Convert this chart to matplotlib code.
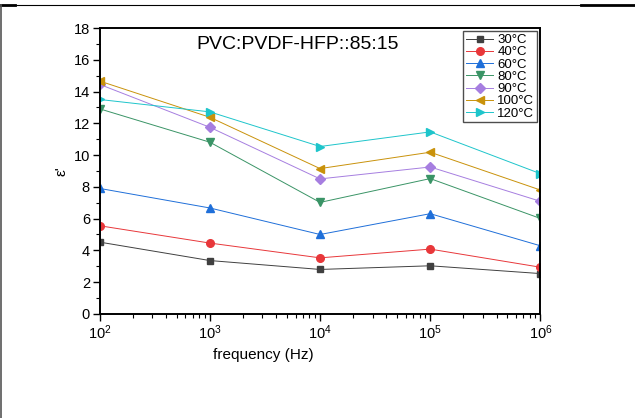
import numpy as np
import matplotlib
matplotlib.use('Agg')
import matplotlib.pyplot as plt
from matplotlib.lines import Line2D

plt.rcParams['font.family'] = ['Liberation Sans', 'DejaVu Sans']

# Dielectric constant vs frequency for each temperature
freq = [1e2, 1e3, 1e4, 1e5, 1e6]
temps = ['30°C', '40°C', '60°C', '80°C', '90°C', '100°C', '120°C']
eps_30 = [4.52, 3.36, 2.80, 3.03, 2.54]
eps_40 = [5.55, 4.46, 3.53, 4.08, 2.94]
eps_60 = [7.90, 6.67, 5.00, 6.31, 4.29]
eps_80 = [12.91, 10.81, 7.02, 8.52, 6.01]
eps_90 = [14.45, 11.75, 8.50, 9.25, 7.09]
eps_100 = [14.66, 12.38, 9.15, 10.18, 7.80]
eps_120 = [13.50, 12.72, 10.54, 11.46, 8.83]
series = [eps_30, eps_40, eps_60, eps_80, eps_90, eps_100, eps_120]

colors = ['#404040', '#e8373a', '#1f6fd9', '#3a9466', '#a67ee0', '#c9920b', '#1ec5cb']
markers = ['s', 'o', '^', 'v', 'D', '<', '>']
msizes = [5, 5.5, 6, 6, 5, 6, 6]

fig = plt.figure(figsize=(6.35, 4.18), dpi=100)
ax = fig.add_axes([0.157, 0.249, 0.694, 0.684])

for vals, lab, c, m, ms in zip(series, temps, colors, markers, msizes):
    ax.plot(freq, vals, color=c, marker=m, markersize=ms, linewidth=0.7, label=lab)

ax.set_xscale('log')
ax.set_xlim(1e2, 1e6)
ax.set_ylim(0, 18)
ax.set_yticks(np.arange(0, 19, 2))
ax.set_yticks(np.arange(1, 18, 2), minor=True)
ax.tick_params(which='major', direction='out', length=5, width=1, labelsize=10.5, pad=2)
ax.tick_params(which='minor', direction='out', length=3, width=0.8)
for s in ax.spines.values():
    s.set_linewidth(1.4)

ax.set_xlabel('frequency (Hz)', fontsize=11)
ax.xaxis.set_label_coords(0.372, -0.12)
ax.set_ylabel("ε'", fontsize=11, labelpad=4)
ax.text(0.45, 0.944, 'PVC:PVDF-HFP::85:15', transform=ax.transAxes,
        ha='center', va='center', fontsize=14)

leg = ax.legend(loc='upper right', fontsize=9.5, frameon=True, fancybox=False,
                edgecolor='#222222', borderpad=0.2, labelspacing=0.0,
                handlelength=2.1, handletextpad=0.3, borderaxespad=0.25)
leg.get_frame().set_linewidth(1.0)

# page border lines around the figure
fig.add_artist(Line2D([0, 0.925], [0.988, 0.988], color='black', linewidth=0.8))
fig.add_artist(Line2D([0, 0.024], [0.987, 0.987], color='black', linewidth=2))
fig.add_artist(Line2D([0.915, 1], [0.987, 0.987], color='black', linewidth=2))
fig.add_artist(Line2D([0.001, 0.001], [0, 0.988], color='#555555', linewidth=1.2))

fig.savefig('out.png', dpi=100)
